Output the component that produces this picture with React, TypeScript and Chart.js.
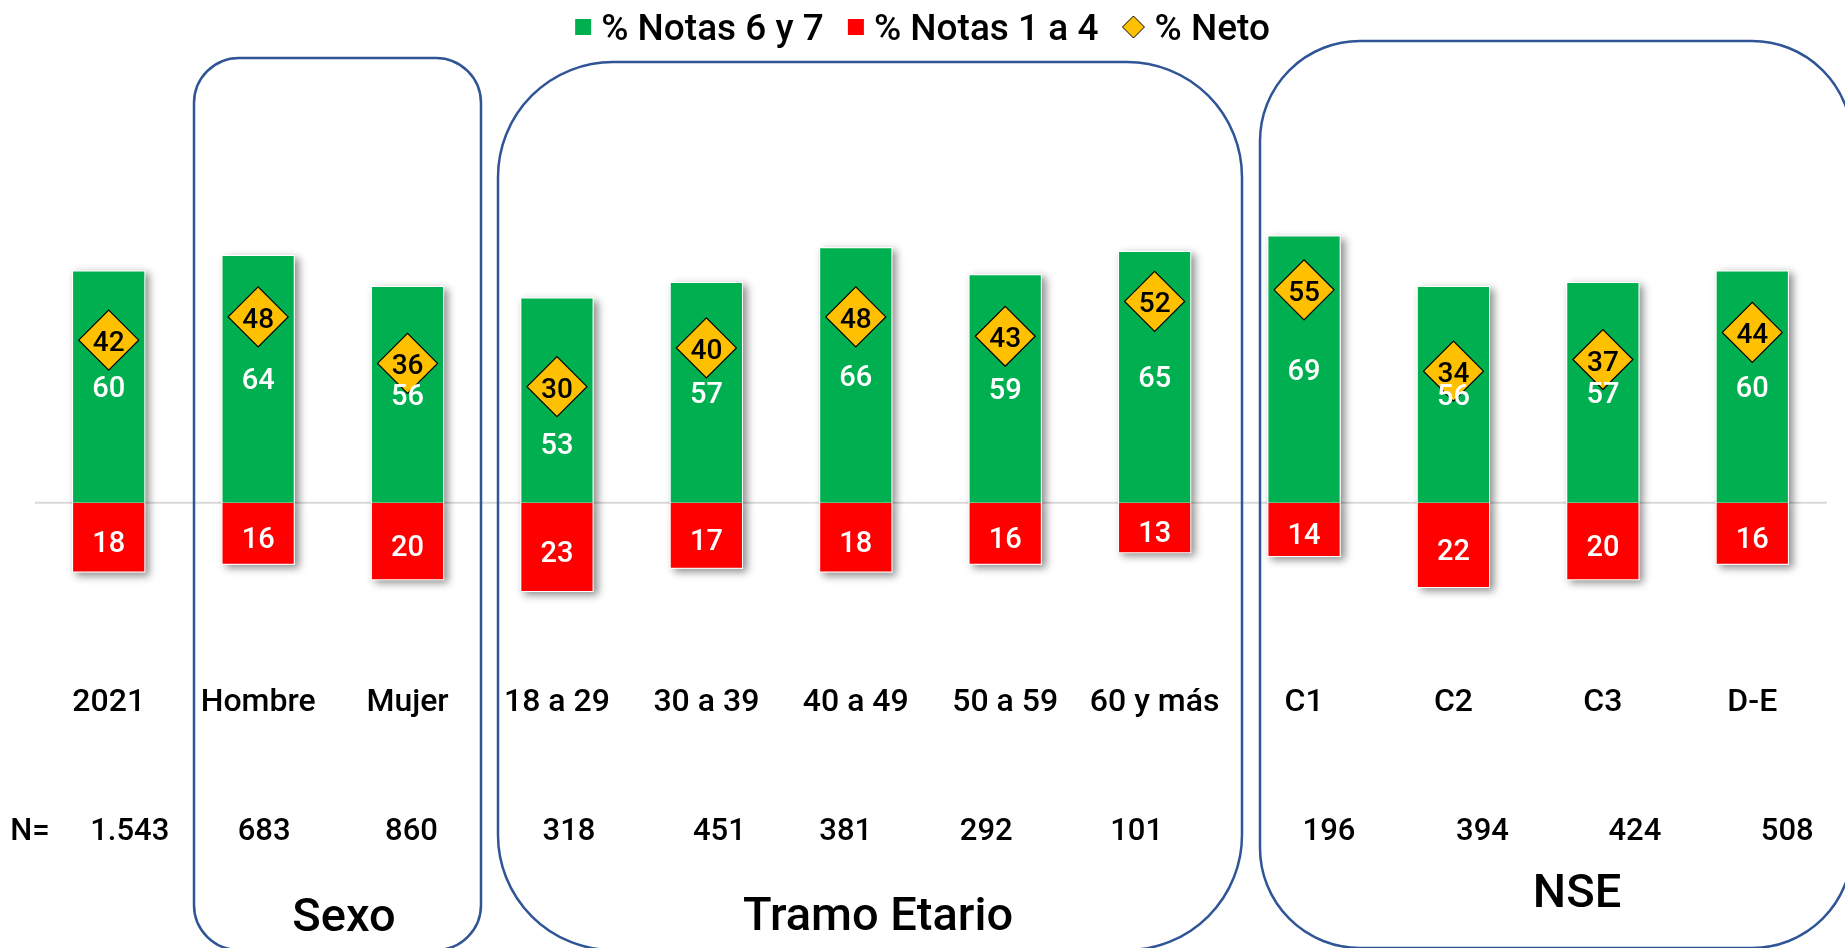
import React, { useEffect, useRef } from 'react';
import { Chart, registerables } from 'chart.js';

Chart.register(...registerables);

// ---- data ----
const categories = ['2021', 'Hombre', 'Mujer', '18 a 29', '30 a 39', '40 a 49', '50 a 59', '60 y más', 'C1', 'C2', 'C3', 'D-E'];
const notas67 = [60, 64, 56, 53, 57, 66, 59, 65, 69, 56, 57, 60];
const notas14 = [18, 16, 20, 23, 17, 18, 16, 13, 14, 22, 20, 16];
const neto = [42, 48, 36, 30, 40, 48, 43, 52, 55, 34, 37, 44];
const sampleSizes = ['1.543', '683', '860', '318', '451', '381', '292', '101', '196', '394', '424', '508'];
const groupNames = ['Sexo', 'Tramo Etario', 'NSE'];

// ---- layout / style ----
const FONT = 'Roboto, "Noto Sans", sans-serif';
const GREEN = '#00B050';
const RED = '#FF0000';
const GOLD = '#FFC000';
const FRAME = '#2F5597';
const W = 1845;
const H = 948;
// horizontal nudges of the sample-size text boxes
const nShift = [21, 6, 4, 12, 13, -10, -19, -18, 25, 29, 32, 35];
// vertical nudges of the green value labels (one label moved clear of its diamond)
const greenLabelShift = [0, 0, 0, 43, 0, 0, 0, 0, 0, 0, 0, 0];
// rounded frames around the groups: left, right, top, bottom, radius, label x, label y
const frames = [
  { l: 194, r: 481, t: 58, b: 950, rad: 45, lx: 344, ly: 914 },
  { l: 498, r: 1242, t: 62, b: 950, rad: 115, lx: 878, ly: 913 },
  { l: 1260, r: 1852, t: 41, b: 948, rad: 100, lx: 1577, ly: 890 },
];

// draws text so that its cap/digit height is centred on y, regardless of descenders
function centeredText(ctx: CanvasRenderingContext2D, text: string, x: number, y: number, align: CanvasTextAlign = 'center') {
  ctx.textAlign = align;
  ctx.textBaseline = 'alphabetic';
  const capH = ctx.measureText('0').actualBoundingBoxAscent;
  ctx.fillText(text, x, y + capH / 2);
}

function roundRect(ctx: CanvasRenderingContext2D, l: number, t: number, r: number, b: number, rad: number) {
  ctx.beginPath();
  ctx.moveTo(l + rad, t);
  ctx.lineTo(r - rad, t);
  ctx.arcTo(r, t, r, t + rad, rad);
  ctx.lineTo(r, b - rad);
  ctx.arcTo(r, b, r - rad, b, rad);
  ctx.lineTo(l + rad, b);
  ctx.arcTo(l, b, l, b - rad, rad);
  ctx.lineTo(l, t + rad);
  ctx.arcTo(l, t, l + rad, t, rad);
  ctx.closePath();
}

const decorations = {
  id: 'decorations',
  beforeDatasetsDraw(chart: any) {
    const { ctx, chartArea, scales } = chart;
    const y0 = scales.y.getPixelForValue(0);
    ctx.save();
    ctx.strokeStyle = '#D9D9D9';
    ctx.lineWidth = 2;
    ctx.beginPath();
    ctx.moveTo(chartArea.left + 1, y0);
    ctx.lineTo(chartArea.right, y0);
    ctx.stroke();
    ctx.restore();

    // soft drop shadow under each bar
    chart.data.datasets.forEach((_ds: any, i: number) => {
      const meta = chart.getDatasetMeta(i);
      if (meta.type !== 'bar') return;
      meta.data.forEach((bar: any) => {
        const p = bar.getProps(['x', 'y', 'base', 'width'], true);
        ctx.save();
        ctx.shadowColor = 'rgba(0,0,0,0.45)';
        ctx.shadowBlur = 8;
        ctx.shadowOffsetX = 4;
        ctx.shadowOffsetY = 3;
        ctx.fillStyle = '#ffffff';
        ctx.fillRect(p.x - p.width / 2, Math.min(p.y, p.base), p.width, Math.abs(p.base - p.y));
        ctx.restore();
      });
    });
  },
  afterDatasetsDraw(chart: any) {
    const { ctx } = chart;
    ctx.save();
    const greenMeta = chart.getDatasetMeta(1);
    const redMeta = chart.getDatasetMeta(2);
    const netoMeta = chart.getDatasetMeta(0);

    ctx.fillStyle = '#ffffff';
    ctx.font = `500 29px ${FONT}`;
    greenMeta.data.forEach((bar: any, i: number) => {
      const p = bar.getProps(['x', 'y', 'base'], true);
      centeredText(ctx, String(notas67[i]), p.x, (p.y + p.base) / 2 + greenLabelShift[i]);
    });
    redMeta.data.forEach((bar: any, i: number) => {
      const p = bar.getProps(['x', 'y', 'base'], true);
      centeredText(ctx, String(notas14[i]), p.x, (p.y + p.base) / 2 + 4);
    });

    ctx.fillStyle = '#000000';
    ctx.font = `500 28px ${FONT}`;
    netoMeta.data.forEach((pt: any, i: number) => {
      const p = pt.getProps(['x', 'y'], true);
      centeredText(ctx, String(neto[i]), p.x, p.y + 1);
    });
    ctx.restore();
  },
  afterDraw(chart: any) {
    const { ctx, scales } = chart;
    const x = scales.x;
    ctx.save();

    // group frames
    ctx.strokeStyle = FRAME;
    ctx.lineWidth = 2.5;
    frames.forEach((f) => {
      roundRect(ctx, f.l, f.t, f.r, f.b, f.rad);
      ctx.stroke();
    });

    ctx.fillStyle = '#000000';
    // category labels
    ctx.font = `500 32px ${FONT}`;
    categories.forEach((c, i) => centeredText(ctx, c, x.getPixelForValue(i), 700));

    // sample sizes
    ctx.font = `500 31px ${FONT}`;
    centeredText(ctx, 'N=', 30, 829);
    sampleSizes.forEach((n, i) => centeredText(ctx, n, x.getPixelForValue(i) + nShift[i], 829));

    // group titles
    ctx.font = `500 47px ${FONT}`;
    frames.forEach((f, i) => centeredText(ctx, groupNames[i], f.lx, f.ly));

    // legend
    const order = [1, 2, 0];
    ctx.font = `500 37px ${FONT}`;
    const markerW = 16;
    const gapAfterMarker = 10;
    const gapBetween = 24;
    const widths = order.map((di) => ctx.measureText(chart.data.datasets[di].label).width);
    const total = widths.reduce((s, w) => s + markerW + gapAfterMarker + w, 0) + gapBetween * (order.length - 1) + 6;
    let cx = W / 2 - total / 2;
    const cy = 27;
    order.forEach((di, k) => {
      const ds = chart.data.datasets[di];
      if (ds.type === 'line') {
        ctx.beginPath();
        ctx.moveTo(cx, cy);
        ctx.lineTo(cx + markerW / 2 + 3, cy - 11);
        ctx.lineTo(cx + markerW + 6, cy);
        ctx.lineTo(cx + markerW / 2 + 3, cy + 11);
        ctx.closePath();
        ctx.fillStyle = ds.backgroundColor;
        ctx.fill();
        ctx.strokeStyle = '#000';
        ctx.lineWidth = 1;
        ctx.stroke();
        cx += 6;
      } else {
        ctx.fillStyle = ds.backgroundColor;
        ctx.fillRect(cx, cy - 8, markerW, 16);
      }
      cx += markerW + gapAfterMarker;
      ctx.fillStyle = '#000';
      centeredText(ctx, ds.label, cx, cy, 'left');
      cx += widths[k] + gapBetween;
    });

    ctx.restore();
  },
};

export default function App() {
  const canvasRef = useRef<HTMLCanvasElement | null>(null);

  useEffect(() => {
    if (!canvasRef.current) return;
    const chart = new Chart(canvasRef.current, {
      type: 'bar',
      data: {
        labels: categories,
        datasets: [
          {
            type: 'line',
            label: '% Neto',
            data: neto,
            showLine: false,
            pointStyle: 'rectRot',
            pointRadius: 30,
            pointHoverRadius: 30,
            backgroundColor: GOLD,
            borderColor: '#000000',
            pointBorderWidth: 1.2,
            order: 0,
          } as any,
          {
            type: 'bar',
            label: '% Notas 6 y 7',
            data: notas67,
            backgroundColor: GREEN,
            borderColor: '#ffffff',
            borderWidth: 1,
            grouped: false,
            barPercentage: 0.49,
            categoryPercentage: 1,
            order: 1,
          } as any,
          {
            type: 'bar',
            label: '% Notas 1 a 4',
            data: notas14.map((v) => -v),
            backgroundColor: RED,
            borderColor: '#ffffff',
            borderWidth: 1,
            grouped: false,
            barPercentage: 0.49,
            categoryPercentage: 1,
            order: 2,
          } as any,
        ],
      },
      options: {
        responsive: true,
        maintainAspectRatio: false,
        animation: false,
        events: [],
        layout: { autoPadding: false, padding: { left: 34, right: 18, top: 193, bottom: 329 } },
        plugins: {
          legend: { display: false },
          tooltip: { enabled: false },
        },
        scales: {
          x: { display: false },
          y: { display: false, min: -30, max: 80 },
        },
      },
      plugins: [decorations],
    });
    return () => chart.destroy();
  }, []);

  return (
    <div style={{ position: 'absolute', left: 0, top: 0, width: W, height: H, background: '#ffffff' }}>
      <canvas ref={canvasRef} />
    </div>
  );
}
